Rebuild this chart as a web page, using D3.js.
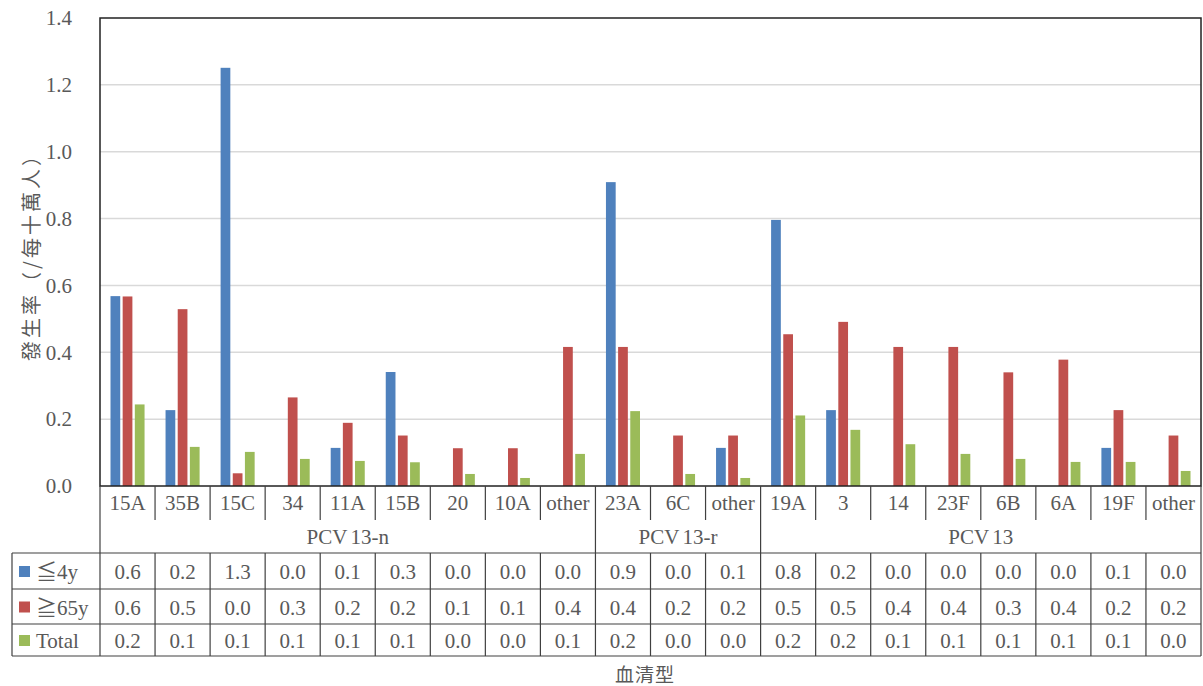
<!DOCTYPE html>
<html>
<head>
<meta charset="utf-8">
<script src="https://cdn.jsdelivr.net/npm/d3@7"></script>
<style>
  html, body { margin: 0; padding: 0; background: #fff; }
  svg { display: block; }
  .serif { font-family: "Liberation Serif", "Times New Roman", "Noto Sans CJK TC", serif; fill: #595959; }
  .cjk { font-family: "Noto Sans CJK TC", "Noto Sans CJK SC", sans-serif; fill: #595959; }
</style>
</head>
<body>
<svg id="chart" width="1203" height="686"></svg>
<script>
// Serotype categories and the vaccine group each belongs to
const serotypes = ["15A","35B","15C","34","11A","15B","20","10A","other",
                   "23A","6C","other",
                   "19A","3","14","23F","6B","6A","19F","other"];
const groupNames = ["PCV13-n", "PCV13-r", "PCV13"];
const groupSizes = [9, 3, 8];

// Incidence per 100,000 population
const seriesNames = ["≦4y", "≧65y", "Total"];
const age4 = [0.568, 0.227, 1.251, 0, 0.114, 0.341, 0, 0, 0,
              0.909, 0, 0.114,
              0.796, 0.227, 0, 0, 0, 0, 0.114, 0];
const age65 = [0.567, 0.529, 0.038, 0.265, 0.189, 0.151, 0.113, 0.113, 0.416,
               0.416, 0.151, 0.151,
               0.454, 0.491, 0.416, 0.416, 0.340, 0.378, 0.227, 0.151];
const total = [0.244, 0.117, 0.102, 0.081, 0.075, 0.071, 0.036, 0.024, 0.096,
               0.224, 0.036, 0.024,
               0.211, 0.168, 0.125, 0.096, 0.081, 0.072, 0.072, 0.045];
const series = [age4, age65, total];
const colors = ["#4F81BD", "#C0504D", "#9BBB59"];

const yTicks = [0, 0.2, 0.4, 0.6, 0.8, 1.0, 1.2, 1.4];

(function draw() {
  const svg = d3.select("#chart");
  const plotLeft = 100, plotRight = 1201, plotTop = 18, plotBottom = 486;
  const tableLeft = 12;
  const catRowBottom = 520, groupRowBottom = 553;
  const rowLines = [553, 589, 624, 656];
  const lineColor = "#404040";

  svg.append("rect").attr("width", 1203).attr("height", 686).attr("fill", "#fff");

  const x = d3.scaleBand().domain(d3.range(serotypes.length)).range([plotLeft, plotRight]).padding(0);
  const inner = d3.scaleBand().domain(d3.range(series.length))
    .range([10.5, x.bandwidth() - 10.5]).paddingInner(0.2).paddingOuter(0);
  const y = d3.scaleLinear().domain([0, 1.4]).range([plotBottom, plotTop]);
  const fmt = d3.format(".1f");

  // Gridlines
  svg.append("g").selectAll("line").data(yTicks.slice(1, -1)).join("line")
    .attr("x1", plotLeft).attr("x2", plotRight)
    .attr("y1", d => y(d)).attr("y2", d => y(d))
    .attr("stroke", "#D9D9D9").attr("stroke-width", 1.5);

  // Y axis labels
  const yAxis = d3.axisLeft(y).tickValues(yTicks).tickFormat(fmt).tickSize(0).tickPadding(28);
  const gy = svg.append("g").attr("transform", `translate(${plotLeft},0)`).call(yAxis);
  gy.select(".domain").remove();
  gy.attr("font-family", null).attr("font-size", null);
  gy.selectAll("text").attr("class", "serif").attr("font-size", 21).attr("fill", "#595959");

  // Bars
  const barG = svg.append("g");
  series.forEach((vals, s) => {
    barG.append("g").selectAll("rect").data(vals).join("rect")
      .attr("x", (d, i) => x(i) + inner(s))
      .attr("width", inner.bandwidth())
      .attr("y", d => y(d))
      .attr("height", d => y(0) - y(d))
      .attr("fill", colors[s]);
  });

  // Plot frame
  svg.append("rect").attr("x", plotLeft).attr("y", plotTop)
    .attr("width", plotRight - plotLeft).attr("height", plotBottom - plotTop)
    .attr("fill", "none").attr("stroke", "#222").attr("stroke-width", 1.5);

  // Group boundaries (start indices)
  const groupStarts = groupSizes.map((s, i) => d3.sum(groupSizes.slice(0, i)));
  const groupStartSet = new Set(groupStarts);
  const tableBottom = rowLines[rowLines.length - 1];

  const tbl = svg.append("g").attr("stroke", lineColor).attr("stroke-width", 1.2);

  // Cell separators: short ticks in the label row, full height at group boundaries
  d3.range(1, serotypes.length).forEach(i => {
    const xx = x(i);
    const full = groupStartSet.has(i);
    tbl.append("line").attr("x1", xx).attr("x2", xx)
      .attr("y1", plotBottom).attr("y2", full ? tableBottom : catRowBottom);
    if (!full) {
      tbl.append("line").attr("x1", xx).attr("x2", xx)
        .attr("y1", groupRowBottom).attr("y2", tableBottom);
    }
  });
  // Outer table lines
  tbl.append("line").attr("x1", plotLeft).attr("x2", plotLeft).attr("y1", plotBottom).attr("y2", tableBottom);
  tbl.append("line").attr("x1", plotRight).attr("x2", plotRight).attr("y1", plotBottom).attr("y2", tableBottom);
  tbl.append("line").attr("x1", tableLeft).attr("x2", tableLeft).attr("y1", rowLines[0]).attr("y2", tableBottom);
  rowLines.forEach(ry => {
    tbl.append("line").attr("x1", tableLeft).attr("x2", plotRight).attr("y1", ry).attr("y2", ry);
  });

  // Category labels
  svg.append("g").selectAll("text").data(serotypes).join("text")
    .attr("class", "serif").attr("font-size", 21)
    .attr("x", (d, i) => x(i) + x.bandwidth() / 2).attr("y", 503)
    .attr("text-anchor", "middle").attr("dominant-baseline", "central")
    .text(d => d);

  // Group labels
  svg.append("g").selectAll("text").data(groupNames).join("text")
    .attr("class", "serif").attr("font-size", 21)
    .attr("x", (d, i) => (x(groupStarts[i]) + x(groupStarts[i] + groupSizes[i] - 1) + x.bandwidth()) / 2)
    .attr("y", 537)
    .attr("text-anchor", "middle").attr("dominant-baseline", "central")
    .each(function (d) {
      const t = d3.select(this);
      t.append("tspan").text(d.slice(0, 3));
      t.append("tspan").attr("dx", 3).text(d.slice(3));
    });

  // Data table rows with legend keys
  series.forEach((vals, s) => {
    const cy = (rowLines[s] + rowLines[s + 1]) / 2 + 1;
    const row = svg.append("g");
    row.append("rect").attr("x", 19).attr("y", cy - 6).attr("width", 11).attr("height", 11)
      .attr("fill", colors[s]);
    row.append("text").attr("class", "serif").attr("font-size", 21)
      .attr("x", 36).attr("y", cy).attr("dominant-baseline", "central")
      .text(seriesNames[s]);
    row.selectAll("text.v").data(vals).join("text").attr("class", "serif v")
      .attr("font-size", 21)
      .attr("x", (d, i) => x(i) + x.bandwidth() / 2).attr("y", cy)
      .attr("text-anchor", "middle").attr("dominant-baseline", "central")
      .text(d => fmt(d));
  });

  // Axis titles
  svg.append("text").attr("class", "cjk").attr("font-size", 20)
    .attr("letter-spacing", 3)
    .attr("transform", "translate(30,252) rotate(-90)")
    .attr("text-anchor", "middle").attr("dominant-baseline", "central")
    .text("發生率（/每十萬人）");
  svg.append("text").attr("class", "cjk").attr("font-size", 19)
    .attr("letter-spacing", 1)
    .attr("x", 645).attr("y", 673)
    .attr("text-anchor", "middle").attr("dominant-baseline", "central")
    .text("血清型");
})();
</script>
</body>
</html>
